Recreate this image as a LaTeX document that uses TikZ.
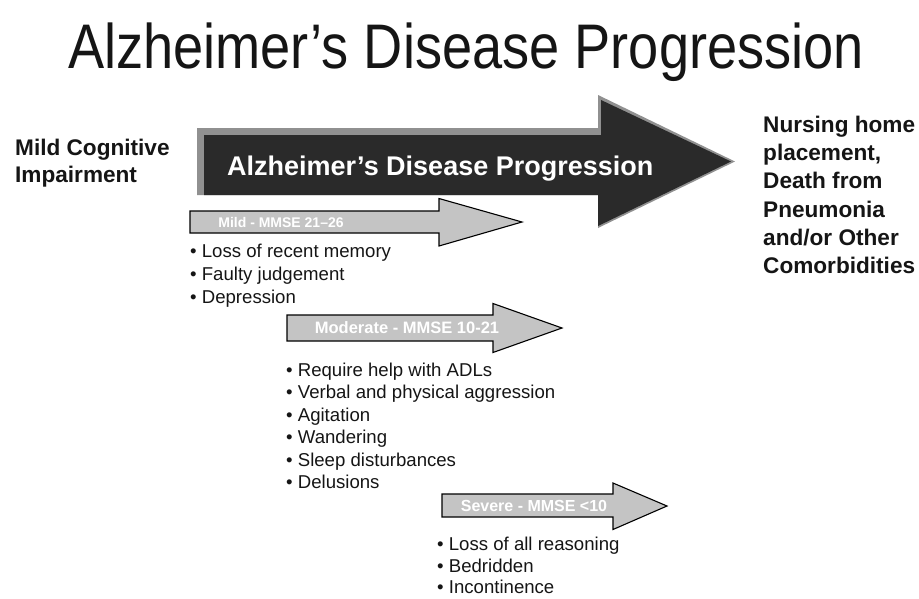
\documentclass[tikz,border=0pt]{standalone}
\usepackage{fontspec}
\setmainfont{Liberation Sans}
\definecolor{arrowgray}{HTML}{C4C4C4}
\definecolor{framegray}{HTML}{909090}
\definecolor{darkbody}{HTML}{2A2A2A}
\definecolor{inktext}{HTML}{151515}
\tikzset{
  titletext/.style={anchor=base, inner sep=0pt, text=inktext, font=\fontsize{63}{70}\selectfont},
  endtext/.style={anchor=base west, inner sep=0pt, text=inktext, font=\bfseries\fontsize{22.6}{28}\selectfont},
  bodytext/.style={anchor=base west, inner sep=0pt, text=inktext, font=\fontsize{18.6}{22}\selectfont},
  stagearrow/.style={draw=black, line width=1.1pt, fill=arrowgray, line join=miter},
  stagelabel/.style={inner sep=0pt, text=white, font=\bfseries\fontsize{15}{18}\selectfont},
  bigtext/.style={anchor=base west, inner sep=0pt, text=white, font=\bfseries\fontsize{27}{32}\selectfont}
}
\begin{document}
\begin{tikzpicture}[x=1pt,y=-1pt]
\useasboundingbox (0,0) rectangle (919,598);
% title
\node[titletext] (title) at (466,68) {\scalebox{0.86}[1]{Alzheimer’s Disease Progression}};
% big arrow
\fill[framegray] (197,128) -- (598,128) -- (598,95) -- (735,161.5) -- (598,228) -- (598,195) -- (197,195) -- cycle;
\fill[darkbody] (204,135) -- (601,135) -- (601,100) -- (731,161.5) -- (598,226) -- (598,195) -- (204,195) -- cycle;
\node[bigtext] (bigl) at (227,175) {Alzheimer’s Disease Progression};
% left text
\node[endtext] (mci1) at (15,155) {Mild Cognitive};
\node[endtext] (mci2) at (15,182) {Impairment};
% right text
\node[endtext] (end1) at (763,132) {Nursing home};
\node[endtext] (end2) at (763,160) {placement,};
\node[endtext] (end3) at (763,188.5) {Death from};
\node[endtext] (end4) at (763,217) {Pneumonia};
\node[endtext] (end5) at (763,245) {and/or Other};
\node[endtext] (end6) at (763,273.5) {Comorbidities};
% mild arrow
\draw[stagearrow] (190,211) -- (439,211) -- (439,198.5) -- (522,222) -- (439,246) -- (439,233) -- (190,233) -- cycle;
\node[stagelabel, font=\bfseries\fontsize{14}{17}\selectfont] (mildl) at (281,222) {Mild - MMSE 21–26};
\node[bodytext] (m1) at (190,257) {• Loss of recent memory};
\node[bodytext] (m2) at (190,280) {• Faulty judgement};
\node[bodytext] (m3) at (190,303) {• Depression};
% moderate arrow
\draw[stagearrow] (287,315) -- (493,315) -- (493,303.5) -- (562,328) -- (493,352.5) -- (493,341) -- (287,341) -- cycle;
\node[stagelabel, font=\bfseries\fontsize{16.5}{19}\selectfont] (modl) at (407,328) {Moderate - MMSE 10-21};
\node[bodytext] (d1) at (286,376) {• Require help with ADLs};
\node[bodytext] (d2) at (286,398.5) {• Verbal and physical aggression};
\node[bodytext] (d3) at (286,421) {• Agitation};
\node[bodytext] (d4) at (286,443.5) {• Wandering};
\node[bodytext] (d5) at (286,466) {• Sleep disturbances};
\node[bodytext] (d6) at (286,488.5) {• Delusions};
% severe arrow
\draw[stagearrow] (442,494) -- (613,494) -- (613,483) -- (667,506) -- (613,529.5) -- (613,517) -- (442,517) -- cycle;
\node[stagelabel, font=\bfseries\fontsize{16}{19}\selectfont] (sevl) at (534,506) {Severe - MMSE <10};
\node[bodytext] (s1) at (437,550) {• Loss of all reasoning};
\node[bodytext] (s2) at (437,572) {• Bedridden};
\node[bodytext] (s3) at (437,593.5) {• Incontinence};
\end{tikzpicture}
\end{document}
